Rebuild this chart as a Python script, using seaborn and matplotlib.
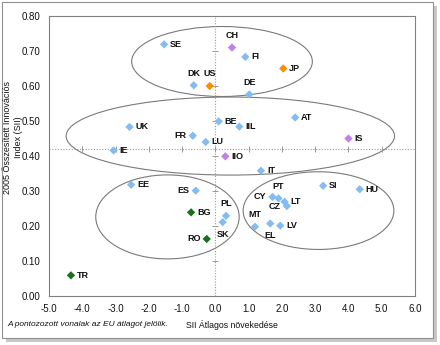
import matplotlib
matplotlib.use("Agg")
import matplotlib.pyplot as plt
from matplotlib.patches import Ellipse, Rectangle
import seaborn as sns
import pandas as pd

countries = ["SE", "DK", "US", "UK", "FR", "LU", "IE", "CH", "FI", "JP", "DE",
             "BE", "IIL", "AT", "IS", "IIO", "IT", "EE", "ES", "BG", "RO", "TR",
             "PL", "SK", "CY", "PT", "LT", "CZ", "MT", "EL", "LV", "SI", "HU"]
growth = [-1.54, -0.65, -0.17, -2.58, -0.68, -0.29, -3.06, 0.50, 0.90, 2.04, 1.02,
          0.10, 0.72, 2.40, 4.00, 0.30, 1.37, -2.53, -0.59, -0.73, -0.26, -4.34,
          0.32, 0.22, 1.72, 1.90, 2.08, 2.15, 1.19, 1.65, 1.95, 3.24, 4.34]
sii = [0.719, 0.602, 0.600, 0.483, 0.458, 0.440, 0.416, 0.710, 0.683, 0.650, 0.576,
       0.499, 0.484, 0.510, 0.450, 0.399, 0.358, 0.318, 0.301, 0.239, 0.163, 0.059,
       0.229, 0.211, 0.283, 0.279, 0.269, 0.257, 0.198, 0.207, 0.201, 0.315, 0.305]
group = ["EU", "EU", "Other", "EU", "EU", "EU", "EU", "EFTA", "EU", "Other", "EU",
         "EU", "EU", "EU", "EFTA", "EFTA", "EU", "EU", "EU", "Cand", "Cand", "Cand",
         "EU", "EU", "EU", "EU", "EU", "EU", "EU", "EU", "EU", "EU", "EU"]
# label placement: r=right, l=left, a=above, b=below
label_pos = ["r", "a", "a", "r", "l", "r", "r", "a", "r", "r", "a",
             "r", "r", "r", "r", "r", "r", "r", "l", "r", "l", "r",
             "a", "b", "l", "a", "r", "l", "a", "b", "r", "r", "r"]

eu_avg_growth = 0.0
eu_avg_sii = 0.42
x_ticks = [-5, -4, -3, -2, -1, 0, 1, 2, 3, 4, 5, 6]
y_ticks = [0.0, 0.1, 0.2, 0.3, 0.4, 0.5, 0.6, 0.7, 0.8]

# ellipses: (center x, center y, width, height)
ellipses = [(0.2, 0.67, 5.43, 0.20),
            (0.45, 0.457, 9.87, 0.223),
            (-1.44, 0.226, 4.31, 0.24),
            (3.1, 0.244, 4.53, 0.222)]

df = pd.DataFrame({"country": countries, "growth": growth, "sii": sii, "group": group})
palette = {"EU": "#84BCF2", "Other": "#FF8C00", "EFTA": "#BF7FEF", "Cand": "#17701A"}

sns.set_style("white")
plt.rcParams["font.family"] = ["Liberation Sans", "DejaVu Sans"]

fig = plt.figure(figsize=(4.4, 3.45), dpi=100)
fig.patch.set_facecolor("white")

# outer frame with shadow
fig.patches.append(Rectangle((6 / 440, 1 - 342 / 345), 431 / 440, 336 / 345,
                             transform=fig.transFigure, facecolor="#c8c8c8",
                             edgecolor="none", zorder=-3))
fig.patches.append(Rectangle((2 / 440, 1 - 338 / 345), 431 / 440, 336 / 345,
                             transform=fig.transFigure, facecolor="white",
                             edgecolor="#909090", linewidth=0.8, zorder=-2))

ax = fig.add_axes([49 / 440, 1 - 296 / 345, 366 / 440, 280 / 345])
ax.set_facecolor("none")

for cx, cy, w, h in ellipses:
    ax.add_patch(Ellipse((cx, cy), w, h, facecolor="none", edgecolor="#7a7a7a",
                         linewidth=0.8, zorder=1))

ax.axvline(eu_avg_growth, color="#9a9a9a", linestyle=(0, (1, 1.5)), linewidth=0.8, zorder=1)
ax.axhline(eu_avg_sii, color="#9a9a9a", linestyle=(0, (1, 1.5)), linewidth=0.8, zorder=1)
# tick marks along the average lines
ax.plot(x_ticks, [eu_avg_sii] * len(x_ticks), linestyle="none", marker="|",
        markersize=4, color="#9a9a9a", markeredgewidth=0.7, zorder=1)
ax.plot([eu_avg_growth] * len(y_ticks), y_ticks, linestyle="none", marker="_",
        markersize=4, color="#9a9a9a", markeredgewidth=0.7, zorder=1)

sns.scatterplot(data=df, x="growth", y="sii", hue="group", palette=palette,
                marker="D", s=18, linewidth=0, legend=False, ax=ax, zorder=3)

offsets = {"r": (6, 0, "left", "center"), "l": (-6, 0, "right", "center"),
           "a": (0, 12, "center", "center"), "b": (0, -12, "center", "center")}
for c, xv, yv, p in zip(countries, growth, sii, label_pos):
    dx, dy, ha, va = offsets[p]
    ax.annotate(c, (xv, yv), xytext=(dx, dy), textcoords="offset pixels",
                ha=ha, va=va, fontsize=6.5, fontweight="bold", color="#111111", zorder=4)

ax.set_xlim(-5, 6)
ax.set_ylim(0, 0.8)
ax.set_xticks(x_ticks)
ax.set_xticklabels([f"{v:.1f}" for v in x_ticks])
ax.set_yticks(y_ticks)
ax.set_yticklabels([f"{v:.2f}" for v in y_ticks])
ax.tick_params(axis="both", length=0, labelsize=7, colors="#111111", pad=6)
ax.set_xlabel("")
ax.set_ylabel("")
for s in ax.spines.values():
    s.set_color("#808080")
    s.set_linewidth(0.8)

fig.text(13 / 440, 1 - 137 / 345, "2005 Összesített Innovációs\nIndex (SII)",
         rotation=90, ha="center", va="center", multialignment="center",
         fontsize=6.5, color="#111111", linespacing=1.3)
fig.text(232 / 440, 1 - 325 / 345, "SII Átlagos növekedése", ha="center",
         va="center", fontsize=6.3, color="#111111")
fig.text(7 / 440, 1 - 325 / 345, "A pontozozott vonalak az EU átlagot jelölik.",
         ha="left", va="center", fontsize=6.0, style="italic", color="#111111")

fig.savefig("out.png", dpi=100)
